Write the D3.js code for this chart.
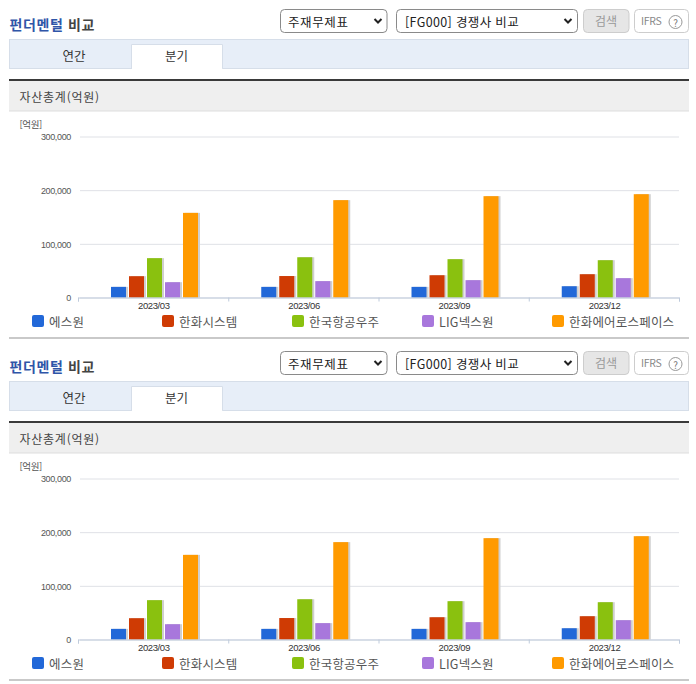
<!DOCTYPE html>
<html lang="ko">
<head>
<meta charset="utf-8">
<script src="https://cdn.jsdelivr.net/npm/d3@7"></script>
<style>
html, body { margin: 0; padding: 0; background: #fff; }
svg { display: block; }
text { font-family: "Noto Sans CJK KR", "Noto Sans", sans-serif; }
</style>
</head>
<body>
<div id="chart"></div>
<script>
var periods = ['2023/03', '2023/06', '2023/09', '2023/12'];
var companies = ['에스원', '한화시스템', '한국항공우주', 'LIG넥스원', '한화에어로스페이스'];
var colors = ['#2268d8', '#cf3b04', '#8ac10f', '#a877dc', '#ff9a00'];
var s1Values = [19800, 19800, 19800, 21000];
var hanwhaSysValues = [39700, 40000, 41500, 43400];
var kaiValues = [73300, 75000, 71400, 69500];
var ligValues = [28500, 30500, 32300, 36000];
var aeroValues = [157700, 181400, 188800, 192500];
var seriesValues = [s1Values, hanwhaSysValues, kaiValues, ligValues, aeroValues];
var yTicks = [0, 100000, 200000, 300000];
var panelOffsets = [0, 342];

var svg = d3.select('#chart').append('svg').attr('width', 696).attr('height', 684);

var x0 = d3.scaleBand().domain(periods).range([78, 679]);
var x1 = d3.scaleBand().domain(companies).range([33, 120]).paddingInner(1 / 6);
var y = d3.scaleLinear().domain([0, 300000]).range([297.5, 136.5]);
var edges = d3.scalePoint().domain(d3.range(periods.length + 1)).range([78, 679]);

function label(g, x, yPos, txt, size, color) {
    return g.append('text').attr('x', x).attr('y', yPos).attr('font-size', size)
        .attr('fill', color).attr('dominant-baseline', 'central').text(txt);
}

function box(g, x, yPos, w, h, fill, stroke, r) {
    return g.append('rect').attr('x', x).attr('y', yPos).attr('width', w).attr('height', h)
        .attr('rx', r || 0).attr('fill', fill).attr('stroke', stroke || 'none');
}

function chevron(g, cx, cy) {
    g.append('path').attr('d', 'M' + (cx - 3.5) + ',' + (cy - 2) + 'L' + cx + ',' + (cy + 1.5) + 'L' + (cx + 3.5) + ',' + (cy - 2))
        .attr('fill', 'none').attr('stroke', '#222').attr('stroke-width', 2);
}

function drawPanel(offset) {
    var g = svg.append('g').attr('transform', 'translate(0,' + offset + ')');

    // title
    var title = label(g, 9.5, 24, '', 14, '#333').attr('font-weight', 700).attr('letter-spacing', 0.6);
    title.append('tspan').attr('fill', '#2f55a8').text('펀더멘털');
    title.append('tspan').attr('fill', '#444').text(' 비교');

    // controls
    box(g, 280.5, 9.5, 106.5, 23, '#fff', '#8a8a8a', 4);
    label(g, 288, 21, '주재무제표', 12.5, '#222').attr('letter-spacing', 0.6);
    chevron(g, 378, 21);
    box(g, 396.5, 9.5, 181, 23, '#fff', '#8a8a8a', 4);
    label(g, 405, 21, '[FG000] 경쟁사 비교', 12.5, '#222').attr('letter-spacing', 0.35);
    chevron(g, 568, 21);
    box(g, 583.5, 9.5, 45.5, 23, '#e6e6e6', '#cdcdcd', 4);
    label(g, 595, 20, '검색', 12, '#999');
    box(g, 634.5, 9.5, 54, 23, '#fff', '#cdcdcd', 4);
    label(g, 641, 20.5, 'IFRS', 10.5, '#888').attr('letter-spacing', -0.3);
    g.append('circle').attr('cx', 675.5).attr('cy', 22).attr('r', 6.5).attr('fill', '#fff').attr('stroke', '#999');
    label(g, 675.5, 22, '?', 10, '#777').attr('text-anchor', 'middle');

    // tabs
    box(g, 9.5, 39.5, 679, 29, '#e7eef8', '#d6dee9');
    g.append('path').attr('d', 'M131.5,69V44.5H222.5V68.5').attr('fill', '#fff').attr('stroke', '#d6dee9');
    g.append('rect').attr('x', 132).attr('y', 66).attr('width', 90).attr('height', 3.5).attr('fill', '#fff');
    label(g, 74, 55.5, '연간', 12.5, '#333').attr('text-anchor', 'middle');
    label(g, 176.5, 55.5, '분기', 12.5, '#333').attr('text-anchor', 'middle');

    // section header
    box(g, 9, 81, 680, 30, '#efefef');
    g.append('rect').attr('x', 9).attr('y', 110.5).attr('width', 680).attr('height', 1).attr('fill', '#dedede');
    g.append('rect').attr('x', 9).attr('y', 79).attr('width', 680).attr('height', 2).attr('fill', '#3a3a3a');
    label(g, 19.5, 96, '자산총계(억원)', 12, '#444').attr('letter-spacing', 0.75);
    label(g, 19.5, 123.5, '[억원]', 9.5, '#555').attr('letter-spacing', -0.4);

    // grid and y labels
    var yAxis = g.append('g').attr('transform', 'translate(78,0)')
        .call(d3.axisLeft(y).tickValues(yTicks).tickSize(-601).tickPadding(7).tickFormat(d3.format(',')));
    yAxis.select('.domain').remove();
    yAxis.selectAll('.tick line').attr('stroke', '#dfe1e6').attr('x1', 2);
    yAxis.selectAll('.tick text').attr('font-size', 9).attr('fill', '#555').attr('letter-spacing', -0.35)
        .attr('dy', '0.36em').style('font-family', '"Liberation Sans", sans-serif');

    // bars
    var groups = g.selectAll('.period').data(periods).enter().append('g')
        .attr('class', 'period')
        .attr('transform', function(d) { return 'translate(' + x0(d) + ',0)'; });

    groups.each(function(p, pi) {
        var rows = companies.map(function(c, ci) {
            return { name: c, value: seriesValues[ci][pi], color: colors[ci] };
        });
        d3.select(this).selectAll('.shadow').data(rows).enter().append('rect')
            .attr('class', 'shadow')
            .attr('x', function(d) { return x1(d.name) + 2; })
            .attr('y', function(d) { return y(d.value); })
            .attr('width', x1.bandwidth())
            .attr('height', function(d) { return y(0) - y(d.value); })
            .attr('fill', '#cfcfcf');
        d3.select(this).selectAll('.bar').data(rows).enter().append('rect')
            .attr('class', 'bar')
            .attr('x', function(d) { return x1(d.name); })
            .attr('y', function(d) { return y(d.value); })
            .attr('width', x1.bandwidth())
            .attr('height', function(d) { return y(0) - y(d.value); })
            .attr('fill', function(d) { return d.color; });
    });

    // x axis
    var xEdge = g.append('g').attr('transform', 'translate(0,297.5)')
        .call(d3.axisBottom(edges).tickSize(4).tickFormat(''));
    xEdge.selectAll('path, line').attr('stroke', '#bfcbdc');
    var xAxis = g.append('g').attr('transform', 'translate(0.7,297.5)')
        .call(d3.axisBottom(x0).tickSize(0).tickPadding(5));
    xAxis.select('.domain').remove();
    xAxis.selectAll('.tick text').attr('font-size', 9.5).attr('fill', '#333').attr('letter-spacing', -0.4)
        .style('font-family', '"Liberation Sans", sans-serif');

    // legend
    var legend = g.selectAll('.legend').data(companies).enter().append('g')
        .attr('class', 'legend')
        .attr('transform', function(d, i) { return 'translate(' + (32 + i * 130) + ',315)'; });
    legend.append('rect').attr('width', 12).attr('height', 12).attr('rx', 2)
        .attr('fill', function(d, i) { return colors[i]; });
    legend.append('text').attr('x', 17).attr('y', 6.5).attr('font-size', 12.5).attr('fill', '#555')
        .attr('dominant-baseline', 'central').attr('letter-spacing', 0.2).text(function(d) { return d; });

    g.append('rect').attr('x', 9).attr('y', 337).attr('width', 680).attr('height', 2).attr('fill', '#c9c9c9');
}

panelOffsets.forEach(drawPanel);
</script>
</body>
</html>
